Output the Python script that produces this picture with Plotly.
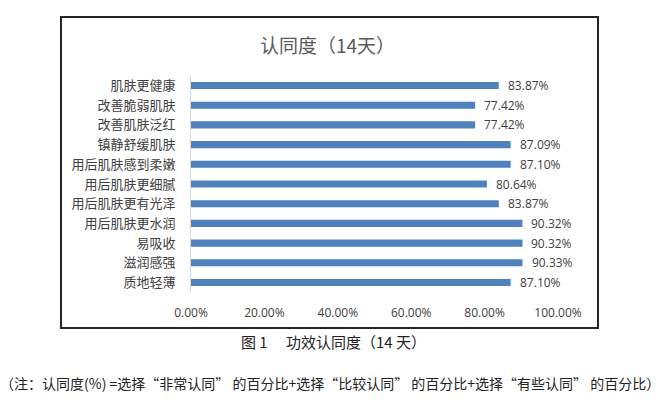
import plotly.graph_objects as go

categories = ["肌肤更健康", "改善脆弱肌肤", "改善肌肤泛红", "镇静舒缓肌肤", "用后肌肤感到柔嫩",
              "用后肌肤更细腻", "用后肌肤更有光泽", "用后肌肤更水润", "易吸收", "滋润感强", "质地轻薄"]
values = [83.87, 77.42, 77.42, 87.09, 87.10, 80.64, 83.87, 90.32, 90.32, 90.33, 87.10]
tick_vals = [0, 20, 40, 60, 80, 100]
tick_text = ["0.00%", "20.00%", "40.00%", "60.00%", "80.00%", "100.00%"]

W, H = 661, 403
CJK = "Noto Sans CJK SC"

fig = go.Figure()
fig.add_trace(go.Bar(
    x=values, y=categories, orientation="h",
    marker=dict(color="#4F81BD", line=dict(width=0)),
    width=0.36, hoverinfo="skip",
))

for c, v in zip(categories, values):
    fig.add_annotation(x=v, y=c, xref="x", yref="y", text=f"{v:.2f}%", showarrow=False,
                       xanchor="left", yanchor="middle", xshift=7,
                       font=dict(family="Open Sans", size=12, color="#404040"))

fig.update_layout(
    width=W, height=H, margin=dict(l=0, r=0, t=0, b=0, autoexpand=False),
    paper_bgcolor="white", plot_bgcolor="white", showlegend=False,
    xaxis=dict(domain=[191 / W, 558 / W], range=[0, 100], tickvals=tick_vals, ticktext=tick_text,
               showgrid=False, zeroline=False, showline=False, ticks="", automargin=False,
               tickfont=dict(family="Open Sans", size=12, color="#404040"), ticklabelstandoff=11),
    yaxis=dict(domain=[(H - 293) / H, (H - 75) / H], autorange="reversed", showgrid=False,
               zeroline=False, showline=True, linecolor="#D9D9D9", linewidth=1, ticks="",
               automargin=False,
               tickfont=dict(family=CJK, size=13, color="#404040"), ticklabelstandoff=12),
)

# chart border
fig.add_shape(type="rect", xref="paper", yref="paper", x0=61 / W, x1=598 / W,
              y0=(H - 328) / H, y1=(H - 17) / H, line=dict(color="#262626", width=2), fillcolor="rgba(0,0,0,0)")

fig.add_annotation(xref="paper", yref="paper", x=327 / W, y=(H - 44) / H, text="认同度（14天）",
                   xanchor="center", yanchor="middle",
                   showarrow=False, font=dict(family=CJK, size=19, color="#595959"))
fig.add_annotation(xref="paper", yref="paper", x=333 / W, y=(H - 341) / H, text="图 1　 功效认同度（14 天）",
                   xanchor="center", yanchor="middle",
                   showarrow=False, font=dict(family=CJK, size=15, color="#222222"))
fig.add_annotation(xref="paper", yref="paper", x=330 / W, y=(H - 383) / H,
                   text="（注：认同度(%) =选择“非常认同” 的百分比+选择“比较认同” 的百分比+选择“有些认同” 的百分比）",
                   xanchor="center", yanchor="middle",
                   showarrow=False, font=dict(family=CJK, size=14, color="#222222"))

fig.write_html("out.html")
